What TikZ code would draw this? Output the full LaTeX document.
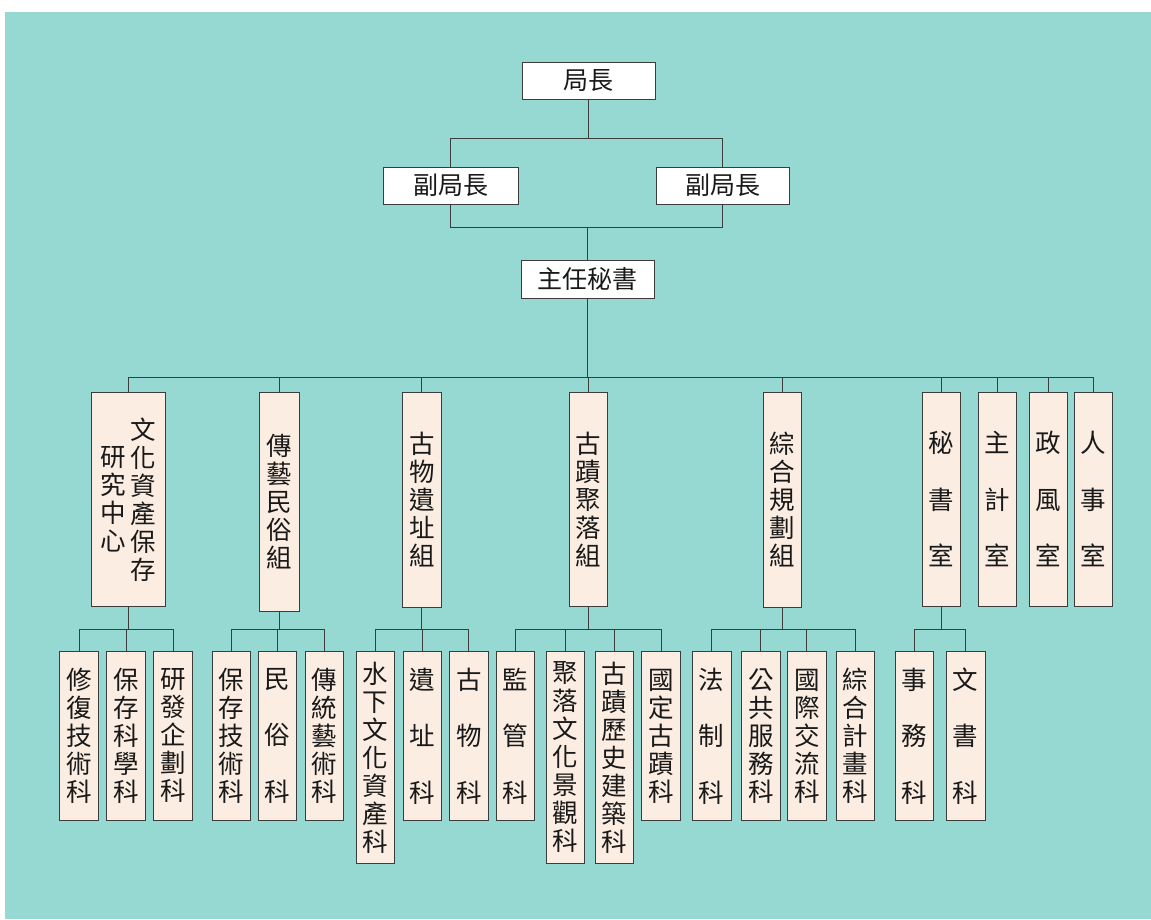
\documentclass[tikz,border=0pt]{standalone}
\usepackage{fontspec}
\newfontfamily\cjk{Noto Sans CJK TC}
\definecolor{bg}{RGB}{150,216,210}
\definecolor{boxfill}{RGB}{251,237,226}
\definecolor{linec}{RGB}{60,60,60}
\definecolor{txt}{RGB}{25,25,25}
\tikzset{
  conn/.style={draw=linec, line width=0.7pt},
  topbox/.style={draw=linec, fill=white, line width=0.8pt, inner sep=0pt, text=txt,
    font=\cjk\fontsize{25}{28}\selectfont},
  vbox/.style={draw=linec, fill=boxfill, line width=0.8pt, inner sep=0pt, anchor=north,
    align=center, text=txt, font=\cjk\fontsize{25.5}{28}\selectfont},
  lvtwo/.style={vbox, minimum width=38pt, minimum height=214pt},
  lvthree/.style={vbox, minimum width=38.5pt, minimum height=169pt},
  longbox/.style={minimum height=212pt},
  spread/.style={font=\cjk\fontsize{25.5}{56.5}\selectfont}
}
\begin{document}
\begin{tikzpicture}[x=1pt,y=-1pt]
\useasboundingbox (0,0) rectangle (1151,919);
\fill[white] (0,0) rectangle (1151,919);
\fill[bg] (5,12) rectangle (1151,919);

% top levels
\node[topbox, minimum width=133pt, minimum height=37pt] (chief) at (588.5,81) {局長};
\node[topbox, minimum width=135pt, minimum height=37pt] (dep1) at (450.5,185.5) {副局長};
\node[topbox, minimum width=133pt, minimum height=37pt] (dep2) at (722.5,185.5) {副局長};
\node[topbox, minimum width=133pt, minimum height=38pt] (sec) at (587.5,279) {主任秘書};

\coordinate (j1) at (588,138);
\coordinate (j2) at (588,227);
\coordinate (bus) at (588,377);
\coordinate (br) at (0,629);

\draw[conn] (chief.south) -- (chief.south |- j1);
\draw[conn] (dep1.north) |- (dep2.north |- j1) -- (dep2.north);
\draw[conn] (dep1.south) |- (dep2.south |- j2) -- (dep2.south);
\draw[conn] (sec.north |- j2) -- (sec.north);
\draw[conn] (sec.south) -- (sec.south |- bus);

% level 2
\node[lvtwo, minimum width=74pt] (c1) at (128,392)
  {\parbox[c]{25pt}{\centering 研\\究\\中\\心}\hspace{4.5pt}\parbox[c]{25pt}{\centering 文\\化\\資\\產\\保\\存}};
\node[lvtwo, minimum width=40pt, minimum height=219pt] (c2) at (279,392) {傳\\藝\\民\\俗\\組};
\node[lvtwo, minimum width=38.5pt, minimum height=215pt] (c3) at (421.75,392) {古\\物\\遺\\址\\組};
\node[lvtwo] (c4) at (588,392) {古\\蹟\\聚\\落\\組};
\node[lvtwo, minimum width=37.5pt, minimum height=215pt] (c5) at (782.25,392) {綜\\合\\規\\劃\\組};
\node[lvtwo, spread] (c6) at (941,392) {秘\\書\\室};
\node[lvtwo, spread] (c7) at (997,392) {主\\計\\室};
\node[lvtwo, spread] (c8) at (1048,392) {政\\風\\室};
\node[lvtwo, spread] (c9) at (1093,392) {人\\事\\室};

\draw[conn] (c1.north) |- (c9.north |- bus) -- (c9.north);
\foreach \c in {c2,c3,c4,c5,c6,c7,c8}{
  \draw[conn] (\c.north) -- (\c.north |- bus);
}

% level 3
\node[lvthree] (k11) at (79,651) {修\\復\\技\\術\\科};
\node[lvthree] (k12) at (126,651) {保\\存\\科\\學\\科};
\node[lvthree] (k13) at (173,651) {研\\發\\企\\劃\\科};

\node[lvthree] (k21) at (231.25,651) {保\\存\\技\\術\\科};
\node[lvthree, spread] (k22) at (277.6,651) {民\\俗\\科};
\node[lvthree] (k23) at (324.5,651) {傳\\統\\藝\\術\\科};

\node[lvthree, longbox] (k31) at (375.2,651) {水\\下\\文\\化\\資\\產\\科};
\node[lvthree, spread] (k32) at (422.6,651) {遺\\址\\科};
\node[lvthree, spread] (k33) at (468.8,651) {古\\物\\科};

\node[lvthree, spread] (k41) at (515.5,651) {監\\管\\科};
\node[lvthree, longbox] (k42) at (565.5,651) {聚\\落\\文\\化\\景\\觀\\科};
\node[lvthree, longbox] (k43) at (614.3,651) {古\\蹟\\歷\\史\\建\\築\\科};
\node[lvthree] (k44) at (661,651) {國\\定\\古\\蹟\\科};

\node[lvthree, spread] (k51) at (711.7,651) {法\\制\\科};
\node[lvthree] (k52) at (760.8,651) {公\\共\\服\\務\\科};
\node[lvthree] (k53) at (806.8,651) {國\\際\\交\\流\\科};
\node[lvthree] (k54) at (855.3,651) {綜\\合\\計\\畫\\科};

\node[lvthree, spread] (k61) at (914.3,651) {事\\務\\科};
\node[lvthree, spread] (k62) at (965.7,651) {文\\書\\科};

% level 3 connectors
\foreach \p/\a/\z in {c1/k11/k13, c2/k21/k23, c3/k31/k33, c4/k41/k44, c5/k51/k54, c6/k61/k62}{
  \draw[conn] (\p.south) -- (\p.south |- br);
  \draw[conn] (\a.north) |- (\z.north |- br) -- (\z.north);
}
\foreach \k in {k12,k22,k32,k42,k43,k52,k53}{
  \draw[conn] (\k.north) -- (\k.north |- br);
}
\end{tikzpicture}
\end{document}
